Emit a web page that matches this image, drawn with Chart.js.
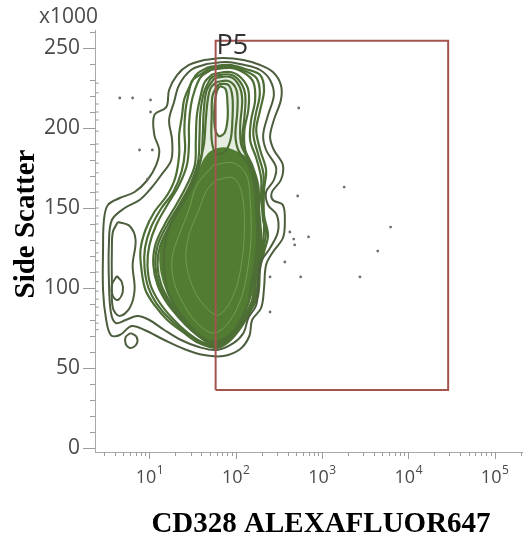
<!DOCTYPE html>
<html>
<head>
<meta charset="utf-8">
<script src="https://cdn.jsdelivr.net/npm/chart.js@4.4.1/dist/chart.umd.min.js"></script>
<style>
    html, body { margin: 0; padding: 0; background: #ffffff; }
</style>
</head>
<body>
<canvas id="plot" width="527" height="540"></canvas>
<script>
// axis ticks
const xDecades = [1, 2, 3, 4, 5];
const yTicks = [0, 50, 100, 150, 200, 250];

// contour levels, [CD328, side scatter x1000], outermost first
const contour1 = [
    [42.7, 242.5], [72.3, 243.75], [123, 242.5], [192, 239.4], [270, 235], [334, 226.9], [334, 217.5],
    [277, 205], [250, 194.4], [277, 186.25], [352, 176.9], [334, 167.5], [263, 160], [270, 155],
    [352, 151.9], [371, 141.25], [352, 131.25], [270, 122.5], [225, 114.4], [213, 100], [197, 87.5],
    [155, 80], [144, 70], [113, 61.9], [72.3, 57.5], [42.7, 58.1], [25.2, 61.9], [14.9, 67.5],
    [8.77, 73.75], [6.22, 76.25], [4.53, 70.6], [3.57, 70.6], [3.13, 81.25], [2.9, 98.75],
    [2.9, 123.75], [2.97, 142.5], [3.3, 151.9], [4.53, 156.25], [6.73, 160], [9.49, 167.5],
    [12.0, 176.9], [13.0, 186.25], [11.4, 195.6], [11.4, 208.1], [15.7, 213.1], [16.9, 223.75],
    [20.9, 233.1], [28.7, 239.4]
];
const contour2 = [
    [46.2, 240], [78.2, 241.25], [126, 239.4], [192, 236.25], [250, 230], [277, 220.6], [237, 208.1],
    [208, 195.6], [225, 186.25], [293, 175.6], [277, 167.5], [225, 160], [237, 151.9], [300, 145.6],
    [308, 135], [250, 125], [197, 116.25], [182, 101.9], [173, 89.4], [140, 81.25], [123, 71.9],
    [94.1, 65.6], [60.1, 61.25], [37.4, 63.1], [23.3, 67.5], [14.9, 73.75], [10, 80], [7.29, 82.5],
    [5.31, 80], [4.08, 78.1], [3.57, 85], [3.39, 105], [3.39, 126.9], [3.67, 142.5], [5.17, 150],
    [7.68, 155], [10.5, 162.5], [13.7, 170.6], [17.9, 180], [18.3, 192.5], [16.9, 205], [19.3, 216.25],
    [22.1, 226.9], [30.3, 236.25]
];
const contour3 = [
    [48.7, 238.1], [82.5, 239.4], [129, 236.9], [192, 233.1], [213, 223.75], [192, 211.25], [173, 198.75],
    [192, 186.25], [225, 173.75], [213, 161.25], [213, 145.6], [237, 133.1], [213, 122.5], [192, 112.5],
    [182, 95.6], [151, 86.25], [116, 75.6], [82.5, 66.25], [60.1, 62.5], [37.4, 65.6], [25.2, 71.9],
    [16.1, 80], [11.4, 89.4], [9.0, 98.75], [8.1, 111.25], [7.88, 123.75], [9.0, 136.25], [11.4, 147.5],
    [16.1, 158.1], [19.9, 168.75], [22.1, 183.1], [22.1, 195.6], [23.9, 208.1], [25.2, 217.5],
    [28.7, 225], [35.5, 233.75]
];
const contour3b = [
    [50, 237.2], [84.7, 238.5], [128, 235.6], [175, 231], [190, 221], [170, 208], [160, 196], [182, 183.5],
    [210, 171], [205, 158], [207, 142.5], [225, 136], [207, 123], [187, 111.8], [177, 95.6], [146, 85.6],
    [111, 75.3], [80.3, 66.6], [59.3, 63.1], [38.9, 65.9], [26.2, 72.2], [17.2, 80.6], [12.1, 90.3],
    [9.7, 100.3], [8.77, 112.8], [8.9, 125.3], [10.4, 137.8], [13.7, 149.7], [18.9, 160], [23.6, 172.8],
    [25.9, 186.3], [25.4, 198.7], [26.2, 211.2], [28.2, 220.6], [31.1, 229.4], [37.4, 232.8]
];
const contour4 = [
    [51.3, 236.25], [86.9, 237.5], [126, 234.4], [160, 228.75], [168, 217.5], [151, 205], [147, 192.5],
    [173, 181.25], [197, 168.75], [197, 155], [213, 139.4], [202, 123.75], [182, 111.25], [173, 95.6],
    [140, 85], [107, 75], [78.2, 66.9], [58.5, 63.75], [40.5, 66.25], [27.2, 72.5], [18.3, 81.25],
    [13.0, 91.25], [10.3, 101.9], [9.49, 114.4], [10, 126.9], [12.0, 139.4], [16.1, 151.9], [22.1, 164.4],
    [27.2, 176.9], [28.7, 189.4], [28.7, 201.9], [30.3, 214.4], [33.6, 223.75], [39.4, 231.9]
];
const contour5 = [
    [54.1, 233.75], [86.9, 235], [116, 231.25], [140, 223.75], [140, 211.25], [126, 198.75], [129, 186.25],
    [155, 176.9], [182, 164.4], [187, 148.75], [197, 133.1], [192, 120.6], [173, 108.1], [164, 93.75],
    [133, 83.75], [102, 73.75], [76.2, 67.5], [57.0, 64.4], [42.7, 67.5], [31.1, 73.1], [22.1, 81.25],
    [15.7, 91.25], [12.4, 101.9], [11.1, 114.4], [11.7, 126.9], [14.9, 139.4], [20.4, 151.9], [27.2, 164.4],
    [33.6, 176.9], [34.5, 192.5], [35.5, 208.1], [39.4, 220.6], [43.8, 228.75]
];
const contour5b = [
    [55.6, 232.5], [86.9, 233.4], [113, 228.75], [129, 220.6], [126, 206.6], [119, 194.4], [122, 187.8],
    [147, 178.4], [175, 166], [182, 150.3], [192, 133.1], [187, 119.7], [168, 106.6], [160, 93.1],
    [130, 83.1], [99, 73.1], [74.2, 67.2], [56.3, 64.7], [43.8, 67.5], [32.3, 73.1], [23, 81.25],
    [16.5, 91.25], [13.0, 101.9], [11.7, 114.4], [12.5, 126.9], [16.1, 139.4], [22.1, 151.9], [29.5, 164.4],
    [36.5, 178.4], [38, 194], [39, 209.7], [42.7, 222], [50, 230]
];
const contour6 = [
    [57.0, 231.25], [86.9, 231.9], [110, 226.25], [119, 217.5], [113, 201.9], [116, 189.4], [140, 180],
    [168, 167.5], [177, 151.9], [187, 133.1], [182, 118.75], [164, 105], [155, 92.5], [126, 82.5],
    [96.6, 72.5], [72.3, 66.9], [55.6, 65], [45.0, 67.5], [33.6, 73.1], [23.9, 81.25], [17.4, 91.25],
    [13.7, 101.9], [12.4, 114.4], [13.4, 126.9], [17.4, 139.4], [23.9, 151.9], [31.9, 164.4], [39.4, 180],
    [41.5, 195.6], [42.7, 211.25], [46.2, 223.75]
];
const contour6b = [
    [60.1, 228.75], [82.5, 229.4], [102, 223.75], [104.6, 211.25], [99.2, 195.6], [107, 186.25], [140, 176.9],
    [164, 164.4], [173, 148.75], [177, 130], [168, 116.25], [151, 101.9], [140, 90.6], [113, 80],
    [86.9, 71.25], [63.4, 66.9], [48.7, 66.9], [37.4, 70.6], [27.2, 78.75], [19.9, 88.75], [16.1, 98.75],
    [14.9, 111.25], [14.9, 123.75], [17.4, 139.4], [23.3, 151.9], [30.3, 164.4], [37.4, 176.9],
    [42.7, 189.4], [45.0, 205], [47.4, 217.5], [51.3, 225]
];
// upper lobe round the bright spot
const topLobe1 = [
    [63.4, 227.5], [82.5, 226.9], [91.6, 219.4], [91.6, 205], [86.9, 192.5], [74.2, 185], [58.5, 184.4],
    [52.7, 192.5], [52.7, 208.1], [54.1, 220.6]
];
const topLobe2 = [
    [65.0, 226.25], [76.2, 224.4], [80.3, 215.6], [80.3, 205], [74.2, 196.9], [63.4, 195], [57.0, 201.25],
    [57.0, 214.4], [60.1, 222.5]
];
// small lobe near the axis
const sideLobe1 = [
    [4.3, 141.25], [5.9, 138.75], [6.91, 130], [6.39, 114.4], [6.73, 98.75], [5.9, 87.5], [4.53, 82.5],
    [3.77, 87.5], [3.67, 105], [3.67, 123.75], [3.77, 135]
];
const sideLobe2 = [
    [4.19, 107.5], [4.78, 103.75], [4.91, 97.5], [4.3, 92.5], [3.77, 95], [3.67, 101.9]
];
const island = [
    [6.06, 71.9], [7.1, 69.4], [7.1, 65], [6.06, 62.5], [5.31, 65], [5.31, 69.4]
];
// dense core, drawn filled
const coreFill = [
    [42.7, 180], [51.3, 185], [72.3, 187.5], [102, 185], [140, 180], [164, 168.75], [173, 155],
    [182, 139.4], [182, 123.75], [168, 110], [151, 95.6], [123, 83.1], [94.1, 72.5], [66.8, 65.6],
    [52.7, 64.4], [39.4, 68.75], [28.7, 76.25], [20.9, 86.25], [16.1, 97.5], [13.7, 110], [13.4, 122.5],
    [15.7, 135], [20.4, 147.5], [27.2, 160], [35.5, 170.6]
];
const coreInner1 = [
    [55.6, 176.9], [94.1, 178.1], [133, 170.6], [147, 155], [151, 133.1], [140, 114.4], [119, 95.6],
    [86.9, 80], [57.0, 71.9], [37.4, 76.9], [25.2, 89.4], [19.3, 103.75], [18.3, 118.75], [22.1, 133.1],
    [28.7, 148.75], [35.5, 164.4]
];
const coreInner2 = [
    [60.1, 167.5], [94.1, 168.75], [119, 158.1], [126, 136.25], [116, 114.4], [94.1, 95.6], [63.4, 83.1],
    [42.7, 89.4], [31.1, 101.9], [26.5, 117.5], [28.7, 133.1], [37.4, 148.75], [46.2, 161.25]
];

// single events
const dotX = [4.53, 6.39, 10.3, 10.3, 7.68, 10.8, 9.49, 537, 1808, 523, 6237, 4428, 424, 470, 698, 483, 371, 566, 2754, 250, 250];
const dotY = [218.75, 218.75, 217.5, 210, 186.25, 186.25, 168.1, 212.5, 163.1, 157.5, 138.1, 123.1, 135, 130.6, 131.9, 126.9, 116.25, 106.9, 106.9, 85, 106.9];
const axisEventY = [228, 222, 215, 210, 205, 198, 190, 185, 178, 172, 165, 160, 155, 150, 145, 140, 135, 128, 122, 117, 110, 104, 98, 93, 88, 83, 78, 74];

// P5 gate
const gateX = [58.5, 29000];
const gateY = [36.2, 254.6];

const edgeGreen = "#4c5e3e";
const bodyGreen = "#4d6f35";
const coreGreen = "#4f7a30";

const loop = (pts) => pts.concat([pts[0]]).map(([x, y]) => ({ x, y }));

const contourLine = (pts, color, width) => ({
    data: loop(pts),
    borderColor: color,
    borderWidth: width,
    pointRadius: 0,
    tension: 0.35,
    fill: false,
    order: 3,
});

const axisDecor = {
    id: "axisDecor",
    afterDraw(chart) {
        const { ctx, chartArea, scales: { x, y } } = chart;
        ctx.save();
        ctx.strokeStyle = "#9c9c9c";
        ctx.lineWidth = 1;
        ctx.beginPath();
        [0].concat(xDecades).forEach((p) => {
            for (let k = 1; k <= 9; k++) {
                const v = k * Math.pow(10, p);
                if (v < x.min || v > x.max) continue;
                const px = Math.round(x.getPixelForValue(v)) + 0.5;
                ctx.moveTo(px, chartArea.bottom);
                ctx.lineTo(px, chartArea.bottom + (k === 1 ? 7 : 4));
            }
        });
        for (let v = 0; v <= 260; v += 10) {
            const py = Math.round(y.getPixelForValue(v)) + 0.5;
            ctx.moveTo(chartArea.left, py);
            ctx.lineTo(chartArea.left - (v % 50 === 0 ? 12 : 5), py);
        }
        ctx.stroke();

        // x tick labels as 10 with a raised exponent
        ctx.fillStyle = "#4a4a4a";
        ctx.textBaseline = "alphabetic";
        ctx.textAlign = "left";
        xDecades.forEach((p) => {
            const px = x.getPixelForValue(Math.pow(10, p));
            ctx.font = "18px 'Open Sans'";
            const wBase = ctx.measureText("10").width;
            ctx.font = "12px 'Open Sans'";
            const wSup = ctx.measureText(String(p)).width;
            const start = px - (wBase + wSup) / 2;
            ctx.font = "18px 'Open Sans'";
            ctx.fillText("10", start, 483);
            ctx.font = "12px 'Open Sans'";
            ctx.fillText(String(p), start + wBase + 0.5, 474);
        });

        ctx.font = "21px 'Open Sans'";
        ctx.fillText("x1000", 39, 23);

        ctx.fillStyle = "#333333";
        ctx.font = "27px 'Open Sans'";
        ctx.fillText("P5", x.getPixelForValue(gateX[0]) + 1, y.getPixelForValue(gateY[1]) + 13);

        ctx.fillStyle = "#000000";
        ctx.font = "bold 29px 'Liberation Serif'";
        ctx.textAlign = "center";
        ctx.fillText("CD328 ALEXAFLUOR647", 321, 532);
        ctx.translate(34, 224);
        ctx.rotate(-Math.PI / 2);
        ctx.fillText("Side Scatter", 0, 0);
        ctx.restore();
    },
};

new Chart(document.getElementById("plot"), {
    type: "line",
    data: {
        datasets: [
            {
                data: [
                    { x: gateX[0], y: gateY[0] }, { x: gateX[0], y: gateY[1] },
                    { x: gateX[1], y: gateY[1] }, { x: gateX[1], y: gateY[0] },
                    { x: gateX[0], y: gateY[0] },
                ],
                borderColor: "#a4534f",
                borderWidth: 2,
                pointRadius: 0,
                tension: 0,
                order: 0,
            },
            {
                data: dotX.map((x, i) => ({ x, y: dotY[i] })),
                showLine: false,
                pointRadius: 1.4,
                pointBorderWidth: 0,
                pointBackgroundColor: "#6e6e6e",
                order: 1,
            },
            {
                data: axisEventY.map((y) => ({ x: 2.45, y })),
                showLine: false,
                pointStyle: "line",
                pointRadius: 2,
                pointBorderWidth: 1,
                pointBorderColor: "#9a9a9a",
                order: 1,
            },
            {
                data: loop(coreInner1),
                borderColor: "rgba(150, 190, 110, 0.5)",
                borderWidth: 1,
                pointRadius: 0,
                tension: 0.35,
                order: 2,
            },
            {
                data: loop(coreInner2),
                borderColor: "rgba(150, 190, 110, 0.45)",
                borderWidth: 1,
                pointRadius: 0,
                tension: 0.35,
                order: 2,
            },
            contourLine(contour1, edgeGreen, 2),
            contourLine(contour2, edgeGreen, 2),
            contourLine(sideLobe1, edgeGreen, 2),
            contourLine(sideLobe2, edgeGreen, 2),
            contourLine(island, edgeGreen, 2),
            contourLine(contour3, bodyGreen, 2.2),
            contourLine(contour3b, bodyGreen, 2.2),
            contourLine(contour4, bodyGreen, 2.2),
            contourLine(contour5, bodyGreen, 2.2),
            contourLine(contour5b, bodyGreen, 2.2),
            contourLine(contour6b, bodyGreen, 2.2),
            contourLine(topLobe1, bodyGreen, 2.2),
            {
                // the pale spot inside the top lobe stays white
                data: loop(topLobe2),
                borderColor: bodyGreen,
                backgroundColor: "#ffffff",
                borderWidth: 2.2,
                pointRadius: 0,
                tension: 0.35,
                fill: "shape",
                order: 3,
            },
            {
                data: loop(contour6),
                borderColor: bodyGreen,
                backgroundColor: "rgba(95, 135, 60, 0.16)",
                borderWidth: 2.2,
                pointRadius: 0,
                tension: 0.35,
                fill: "shape",
                order: 3,
            },
            {
                data: loop(coreFill),
                borderColor: coreGreen,
                backgroundColor: coreGreen,
                borderWidth: 1.5,
                pointRadius: 0,
                tension: 0.35,
                fill: "shape",
                order: 4,
            },
        ],
    },
    options: {
        responsive: false,
        animation: false,
        layout: { padding: { top: 30, right: 0, bottom: 0, left: 0 } },
        plugins: {
            legend: { display: false },
            tooltip: { enabled: false },
        },
        scales: {
            x: {
                type: "logarithmic",
                min: 2.34,
                max: 208000,
                afterFit: (scale) => { scale.height = 88; },
                afterBuildTicks: (scale) => {
                    scale.ticks = xDecades.map((p) => ({ value: Math.pow(10, p) }));
                },
                ticks: { display: false },
                grid: { display: false, drawTicks: false },
                border: { display: true, color: "#a8a8a8", width: 1 },
            },
            y: {
                type: "linear",
                min: -2.5,
                max: 261.25,
                afterFit: (scale) => { scale.width = 95; },
                afterBuildTicks: (scale) => {
                    scale.ticks = yTicks.map((v) => ({ value: v }));
                },
                ticks: {
                    font: { family: "Open Sans", size: 21 },
                    color: "#4a4a4a",
                    padding: 15,
                },
                grid: { display: false, drawTicks: false },
                border: { display: true, color: "#a8a8a8", width: 1 },
            },
        },
    },
    plugins: [axisDecor],
});
</script>
</body>
</html>
